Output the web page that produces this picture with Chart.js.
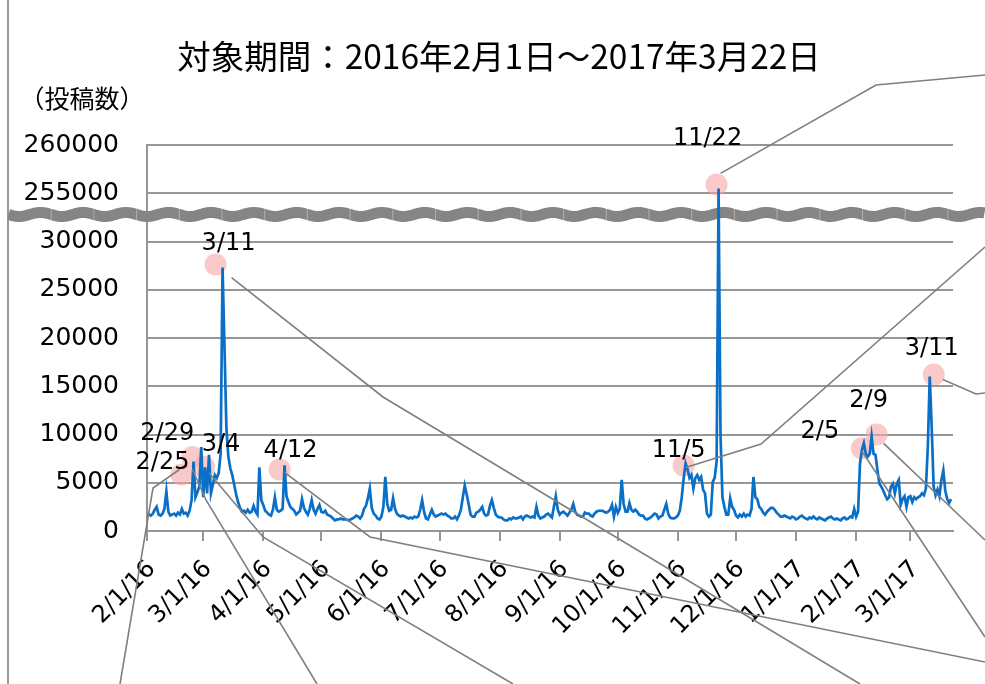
<!DOCTYPE html>
<html>
<head>
<meta charset="utf-8">
<script src="https://cdn.jsdelivr.net/npm/chart.js@4/dist/chart.umd.min.js"></script>
<style>
  html, body { margin: 0; padding: 0; background: #fff; }
  #wrap { width: 985px; height: 684px; }
</style>
</head>
<body>
<div id="wrap"><canvas id="posts-chart" width="985" height="684"></canvas></div>
<script>
/* Daily post counts with a broken y axis (30000 -> 255000) */

const startDate = '2016-02-01';

// one value per day, 2016-02-01 .. 2017-03-22
const dailyPosts = [
    1600, 1700, 1600, 1800, 2200, 2500, 1700, 1600, 1800, 2300,
    4100, 2000, 1600, 1700, 1800, 1600, 1900, 1700, 2300, 1800,
    1900, 1600, 2100, 3200, 7200, 3500, 4000, 4600, 8700, 3500,
    6600, 3900, 7900, 3900, 4800, 5800, 5500, 6000, 8000, 27300,
    19000, 10500, 7700, 6500, 5800, 4800, 3800, 3000, 2400, 2000,
    2100, 1900, 2200, 1900, 2000, 2600, 2000, 1700, 6600, 3200,
    2700, 2100, 1900, 1700, 1600, 2200, 3500, 2200, 2000, 2100,
    2300, 6800, 3600, 3000, 2500, 2300, 2100, 1700, 1900, 2100,
    3300, 2400, 2000, 1700, 2300, 3200, 2200, 1800, 2300, 2700,
    2000, 1900, 2100, 1700, 1600, 1500, 1300, 1100, 1200, 1200,
    1300, 1200, 1200, 1200, 1100, 1200, 1300, 1400, 1600, 1500,
    1300, 1600, 2300, 2600, 3400, 4400, 2400, 1800, 1600, 1300,
    1200, 1500, 2500, 5600, 2800, 2100, 2200, 3400, 2300, 1800,
    1600, 1500, 1600, 1500, 1400, 1300, 1400, 1300, 1500, 1400,
    1500, 2200, 3200, 2000, 1300, 1200, 1700, 2200, 1700, 1500,
    1600, 1700, 1800, 1700, 1800, 1600, 1500, 1300, 1300, 1500,
    1200, 1600, 2200, 3500, 4700, 3800, 2800, 1700, 1500, 1500,
    1900, 2000, 2200, 2500, 1800, 1600, 1700, 2600, 3200, 2400,
    1700, 1500, 1400, 1400, 1200, 1100, 1100, 1300, 1200, 1400,
    1300, 1300, 1400, 1500, 1200, 1500, 1600, 1500, 1400, 1500,
    1400, 2500, 1600, 1300, 1400, 1500, 1700, 1800, 1600, 1400,
    2500, 3600, 2200, 1700, 1900, 2000, 1800, 1600, 1900, 2200,
    2800, 2000, 1700, 1600, 1500, 1500, 1900, 1800, 1800, 1600,
    1500, 1800, 2000, 2100, 2100, 2100, 2000, 1900, 2000, 2200,
    2700, 1500, 2500, 1900, 2300, 5300, 2800, 2000, 2000, 2900,
    2200, 2000, 2200, 2000, 1700, 1600, 1600, 1300, 1200, 1300,
    1400, 1600, 1800, 1700, 1300, 1500, 1600, 2200, 2800, 1800,
    1400, 1300, 1300, 1400, 1600, 2100, 3500, 5500, 7000, 6400,
    5500, 5800, 4400, 5500, 5800, 5300, 5600, 4300, 3900, 1800,
    1500, 1700, 5100, 5500, 7200, 255500, 10000, 3500, 2500, 1700,
    1700, 3400, 2500, 2200, 1600, 1400, 1700, 1500, 1800, 1500,
    1700, 1600, 2300, 5600, 3500, 3300, 2500, 2300, 1900, 1700,
    2000, 2200, 2400, 2400, 2200, 1900, 1700, 1500, 1500, 1600,
    1500, 1400, 1300, 1500, 1400, 1200, 1300, 1500, 1600, 1400,
    1300, 1200, 1400, 1300, 1500, 1300, 1200, 1400, 1300, 1200,
    1100, 1300, 1400, 1500, 1300, 1200, 1300, 1200, 1100, 1300,
    1400, 1200, 1300, 1500, 1400, 2300, 1500, 2000, 7000, 8400,
    9100, 8000, 7700, 8000, 9800, 8000, 7900, 6300, 4900, 4600,
    4200, 3700, 3300, 3500, 4600, 4900, 3900, 4900, 5300, 2700,
    3300, 3600, 2500, 3500, 3600, 3000, 3500, 3300, 3500, 3600,
    3900, 3700, 4400, 8700, 16000, 10800, 4600, 3700, 4300, 3600,
    5300, 6300, 4200, 3300, 2900, 3300
];

const monthLabels = ['2/1/16', '3/1/16', '4/1/16', '5/1/16', '6/1/16', '7/1/16', '8/1/16',
    '9/1/16', '10/1/16', '11/1/16', '12/1/16', '1/1/17', '2/1/17', '3/1/17'];

const yTickValues = [0, 5000, 10000, 15000, 20000, 25000, 30000, 255000, 260000];
const breakFrom = 30000;
const breakTo = 255000;

const calloutDates = ['2016-02-25', '2016-02-29', '2016-03-04', '2016-03-11', '2016-04-12',
    '2016-11-05', '2016-11-22', '2017-02-05', '2017-02-09', '2017-03-11'];
const calloutLabels = ['2/25', '2/29', '3/4', '3/11', '4/12', '11/5', '11/22', '2/5', '2/9', '3/11'];

const titleText = '対象期間：2016年2月1日～2017年3月22日';
const yAxisTitle = '（投稿数）';

// ---- helpers ----
const DAY_MS = 86400000;
const STEP = 5000;

function dayIndex(iso) {
    return Math.round((Date.parse(iso) - Date.parse(startDate)) / DAY_MS);
}

function monthLabelDay(label) {
    const [m, d, y] = label.split('/').map(Number);
    return Math.round((Date.UTC(2000 + y, m - 1, d) - Date.parse(startDate)) / DAY_MS);
}

// values above the break are shifted down so 255000 sits one step above 30000
function toAxis(v) {
    return v <= breakFrom ? v : v - breakTo + breakFrom + STEP;
}

const monthDays = monthLabels.map(monthLabelDay);
const axisTicks = yTickValues.map(toAxis);

// circle offset (c), label offset (t) and leader start (s) are relative to the point;
// the rest of each leader runs to fixed spots on the page
const calloutLayout = [
    { c: [-12, 13], t: [-31, 1], s: [-14, 8], path: [[153, 488], [120, 684]] },
    { c: [-9, 10], t: [-34, -13], s: [-9, 22], path: [[206, 500], [317, 684]] },
    { c: [-5, 12], t: [12, -10], s: [0, 18], path: [[263, 537], [513, 684]] },
    { c: [-7, -3], t: [6, -24], s: [9, 10], path: [[383, 397], [860, 684]] },
    { c: [-5, 4], t: [6, -15], s: [0, 7], path: [[370, 537], [985, 662]] },
    { c: [-2, 2], t: [-7, -13], s: [0, 4], path: [[761, 444], [985, 247]] },
    { c: [-2, -4], t: [-11, -50], s: [2, -15], path: [[876, 85], [985, 75]] },
    { c: [-2, 5], t: [-44, -11], s: [-2, 8], path: [[985, 637]] },
    { c: [5, -2], t: [-3, -36], s: [12, 7], path: [[985, 540]] },
    { c: [4, -2], t: [2, -28], s: [13, 3], path: [[976, 394], [985, 393]] }
];

const GRID = '#969696';
const LINE_BLUE = '#0a6fc6';

const overlayPlugin = {
    id: 'overlay',
    beforeDatasetsDraw(chart) {
        const { ctx, scales } = chart;
        const y = scales.y;

        // outer frame edge on the left
        ctx.save();
        ctx.strokeStyle = '#9a9a9a';
        ctx.lineWidth = 2;
        ctx.beginPath();
        ctx.moveTo(8, 0);
        ctx.lineTo(8, 684);
        ctx.stroke();

        // wavy break band across the whole figure
        const yc = y.getPixelForValue(breakFrom + 2800);
        const period = 42.7;
        const x0 = 8.5;
        ctx.strokeStyle = '#858585';
        ctx.lineWidth = 11;
        ctx.beginPath();
        for (let x = x0; x <= 985; x += 1) {
            const yy = yc + 2 * Math.sin((x - x0) / period * Math.PI * 2);
            if (x === x0) ctx.moveTo(x, yy); else ctx.lineTo(x, yy);
        }
        ctx.stroke();
        ctx.strokeStyle = 'rgba(255,255,255,0.35)';
        ctx.lineWidth = 1;
        for (let x = x0 + period; x < 985; x += period) {
            ctx.beginPath();
            ctx.moveTo(x, yc - 6);
            ctx.lineTo(x, yc + 6);
            ctx.stroke();
        }

        // highlight circles
        ctx.fillStyle = 'rgba(247,165,165,0.6)';
        calloutDates.forEach((d, i) => {
            const px = scales.x.getPixelForValue(dayIndex(d));
            const py = y.getPixelForValue(toAxis(dailyPosts[dayIndex(d)]));
            const [cx, cy] = calloutLayout[i].c;
            ctx.beginPath();
            ctx.arc(px + cx, py + cy, 11, 0, Math.PI * 2);
            ctx.fill();
        });
        ctx.restore();
    },
    afterDatasetsDraw(chart) {
        const { ctx, scales } = chart;
        ctx.save();
        ctx.strokeStyle = '#7f7f7f';
        ctx.lineWidth = 1.6;
        ctx.fillStyle = '#000';
        ctx.font = '24px "DejaVu Sans"';
        ctx.textAlign = 'center';
        ctx.textBaseline = 'middle';
        calloutDates.forEach((d, i) => {
            const px = scales.x.getPixelForValue(dayIndex(d));
            const py = scales.y.getPixelForValue(toAxis(dailyPosts[dayIndex(d)]));
            const lay = calloutLayout[i];
            ctx.beginPath();
            ctx.moveTo(px + lay.s[0], py + lay.s[1]);
            lay.path.forEach(p => ctx.lineTo(p[0], p[1]));
            ctx.stroke();
            ctx.fillText(calloutLabels[i], px + lay.t[0], py + lay.t[1]);
        });

        ctx.font = '33.5px "Noto Sans CJK JP"';
        ctx.fillText(titleText, 499, 56);
        ctx.font = '25px "Noto Sans CJK JP"';
        ctx.fillText(yAxisTitle, 82, 98);
        ctx.restore();
    }
};

Chart.defaults.font.family = '"DejaVu Sans"';
Chart.defaults.color = '#000';

new Chart(document.getElementById('posts-chart'), {
    type: 'line',
    data: {
        datasets: [{
            data: dailyPosts.map((v, i) => ({ x: i, y: toAxis(v) })),
            borderColor: LINE_BLUE,
            borderWidth: 2.7,
            pointRadius: 0,
            tension: 0,
            fill: false
        }]
    },
    options: {
        responsive: false,
        animation: false,
        devicePixelRatio: 1,
        layout: { padding: { top: 145, right: 32, left: 0, bottom: 0 } },
        plugins: {
            legend: { display: false },
            tooltip: { enabled: false },
            title: { display: false }
        },
        scales: {
            x: {
                type: 'linear',
                min: 0,
                max: 416,
                afterBuildTicks: scale => { scale.ticks = monthDays.map(v => ({ value: v })); },
                afterFit: scale => { scale.height = 153; },
                ticks: {
                    autoSkip: false,
                    maxRotation: 45,
                    minRotation: 45,
                    padding: 14,
                    labelOffset: 5,
                    font: { size: 24 },
                    callback: value => monthLabels[monthDays.indexOf(value)]
                },
                grid: {
                    drawOnChartArea: false,
                    drawTicks: true,
                    tickLength: 10,
                    color: GRID,
                    lineWidth: 2
                },
                border: { display: true, color: GRID, width: 2 }
            },
            y: {
                min: 0,
                max: toAxis(260000),
                afterBuildTicks: scale => { scale.ticks = axisTicks.map(v => ({ value: v })); },
                afterFit: scale => { scale.width = 147; },
                ticks: {
                    padding: 28,
                    font: { size: 25 },
                    callback: value => String(yTickValues[axisTicks.indexOf(value)])
                },
                grid: { color: GRID, lineWidth: 2, drawTicks: false },
                border: { display: true, color: GRID, width: 2 }
            }
        }
    },
    plugins: [overlayPlugin]
});
</script>
</body>
</html>
